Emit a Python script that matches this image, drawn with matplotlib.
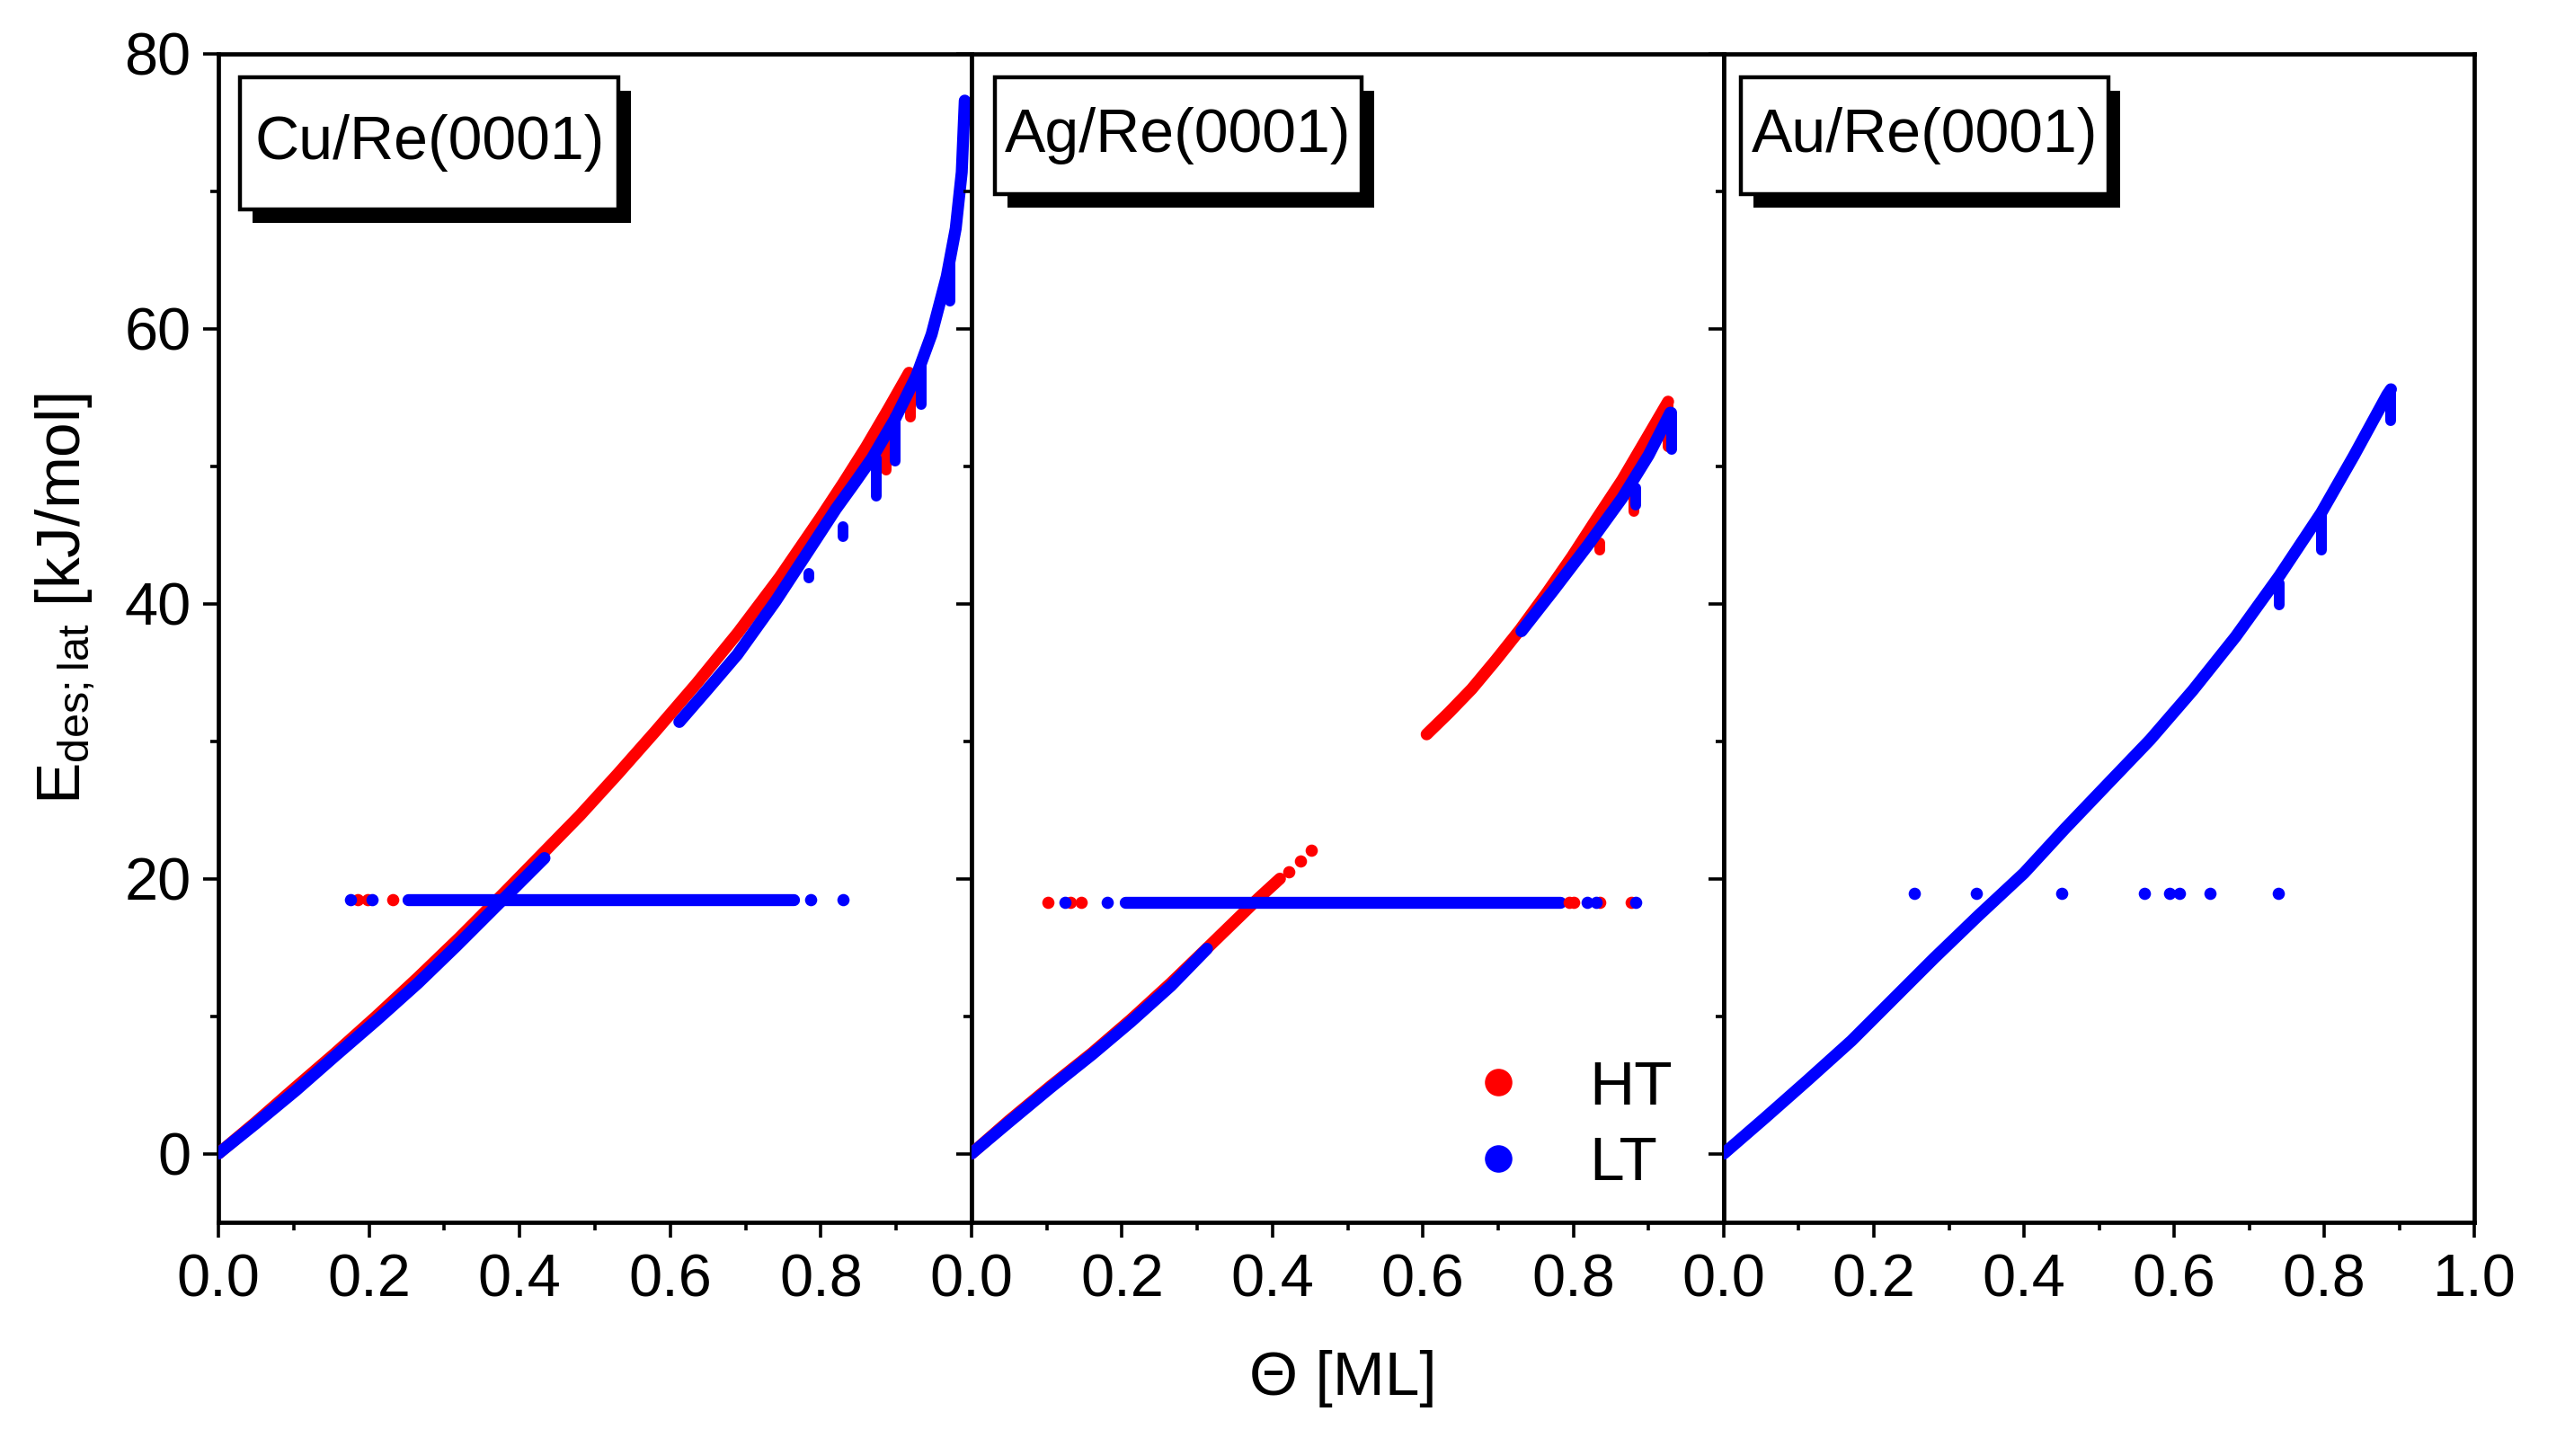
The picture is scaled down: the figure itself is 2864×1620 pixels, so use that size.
import matplotlib.pyplot as plt
from matplotlib.patches import Rectangle
from matplotlib.lines import Line2D

plt.rcParams['font.family'] = ['Liberation Sans', 'DejaVu Sans']
plt.rcParams['mathtext.default'] = 'regular'

RED = '#ff0000'
BLUE = '#0000ff'

panels = ['Cu/Re(0001)', 'Ag/Re(0001)', 'Au/Re(0001)']

# ---- Cu/Re(0001) ----
cu_ht_x = [0.0, 0.05, 0.10, 0.155, 0.21, 0.265, 0.32, 0.38, 0.43, 0.48, 0.53, 0.58,
           0.635, 0.69, 0.745, 0.80, 0.83, 0.86, 0.89, 0.917]
cu_ht_y = [0.0, 2.3, 4.7, 7.3, 10.0, 12.8, 15.7, 19.0, 21.8, 24.6, 27.6, 30.7,
           34.2, 37.9, 41.9, 46.3, 48.8, 51.4, 54.2, 56.8]
cu_lt1_x = [0.0, 0.05, 0.103, 0.155, 0.21, 0.265, 0.316, 0.38, 0.433]
cu_lt1_y = [0.0, 2.2, 4.6, 7.1, 9.7, 12.4, 15.1, 18.6, 21.5]
cu_lt2_x = [0.612, 0.65, 0.689, 0.74, 0.795, 0.82, 0.845, 0.868, 0.899, 0.927,
            0.947, 0.967, 0.979, 0.987, 0.991]
cu_lt2_y = [31.4, 33.8, 36.3, 40.2, 44.8, 46.9, 48.8, 50.6, 53.5, 56.6,
            59.6, 63.8, 67.3, 71.4, 76.6]
cu_ht_drip_x = [0.919, 0.887]
cu_ht_drip_top = [56.5, 52.0]
cu_ht_drip_bot = [53.6, 49.7]
cu_lt_drip_x = [0.971, 0.933, 0.899, 0.873, 0.829, 0.784]
cu_lt_drip_top = [64.8, 57.5, 53.6, 50.6, 45.6, 42.2]
cu_lt_drip_bot = [62.0, 54.5, 50.4, 47.8, 44.9, 41.9]
cu_flat_y = 18.5
cu_flat_x = [0.252, 0.764]
cu_ht_dots = [0.185, 0.198, 0.232]
cu_lt_dots = [0.175, 0.204, 0.786, 0.829]

# ---- Ag/Re(0001) ----
ag_ht1_x = [0.0, 0.05, 0.105, 0.16, 0.212, 0.265, 0.318, 0.35, 0.382, 0.41]
ag_ht1_y = [0.0, 2.4, 4.9, 7.3, 9.75, 12.4, 15.2, 16.9, 18.6, 20.0]
ag_ht1_dots_x = [0.422, 0.437, 0.452]
ag_ht1_dots_y = [20.5, 21.3, 22.1]
ag_lt1_x = [0.0, 0.05, 0.105, 0.16, 0.212, 0.265, 0.313]
ag_lt1_y = [0.0, 2.3, 4.8, 7.2, 9.6, 12.2, 14.9]
ag_ht2_x = [0.605, 0.635, 0.665, 0.697, 0.729, 0.765, 0.798, 0.83, 0.865, 0.895, 0.926]
ag_ht2_y = [30.5, 32.1, 33.8, 35.9, 38.1, 40.8, 43.4, 46.1, 49.0, 51.8, 54.7]
ag_lt2_x = [0.731, 0.774, 0.82, 0.865, 0.90, 0.929]
ag_lt2_y = [38.0, 41.0, 44.3, 47.7, 50.8, 53.9]
ag_ht_drip_x = [0.926, 0.880, 0.835]
ag_ht_drip_top = [54.7, 48.4, 44.4]
ag_ht_drip_bot = [51.4, 46.7, 43.9]
ag_lt_drip_x = [0.931, 0.883]
ag_lt_drip_top = [53.9, 48.4]
ag_lt_drip_bot = [51.2, 47.2]
ag_flat_y = 18.3
ag_flat_x = [0.204, 0.782]
ag_ht_dots = [0.101, 0.131, 0.146, 0.794, 0.80, 0.835, 0.877]
ag_lt_dots = [0.124, 0.181, 0.818, 0.83, 0.883]

# ---- Au/Re(0001) ----
au_lt_x = [0.0, 0.055, 0.111, 0.17, 0.225, 0.28, 0.339, 0.40, 0.454, 0.51, 0.568,
           0.625, 0.682, 0.74, 0.796, 0.84, 0.884, 0.889]
au_lt_y = [0.0, 2.6, 5.3, 8.2, 11.2, 14.2, 17.3, 20.4, 23.6, 26.8, 30.1,
           33.7, 37.6, 42.0, 46.6, 50.8, 55.2, 55.6]
au_lt_drip_x = [0.889, 0.796, 0.74]
au_lt_drip_top = [55.6, 46.6, 41.5]
au_lt_drip_bot = [53.3, 43.9, 39.9]
au_dots_y = 18.9
au_lt_dots = [0.254, 0.337, 0.45, 0.560, 0.594, 0.607, 0.648, 0.739]

LW = 4.8
MS = 24

fig = plt.figure(figsize=(14.32, 8.1), dpi=200)
lefts = [243 / 2864, 1081 / 2864, 1918 / 2864]
widths = [838 / 2864, 837 / 2864, 835 / 2864]
axes = [fig.add_axes([l, 0.1605, w, 0.8025]) for l, w in zip(lefts, widths)]


def curve(ax, x, y, c):
    ax.plot(x, y, color=c, lw=LW, solid_capstyle='round', solid_joinstyle='round', zorder=3)


def drips(ax, x, top, bot, c):
    for xi, t, b in zip(x, top, bot):
        ax.plot([xi, xi], [t, b], color=c, lw=LW * 0.9, solid_capstyle='round', zorder=3)


def dots(ax, x, y, c):
    yy = y if isinstance(y, list) else [y] * len(x)
    ax.scatter(x, yy, s=MS, color=c, lw=0, zorder=4)


ax = axes[0]
curve(ax, cu_ht_x, cu_ht_y, RED)
drips(ax, cu_ht_drip_x, cu_ht_drip_top, cu_ht_drip_bot, RED)
dots(ax, cu_ht_dots, cu_flat_y, RED)
curve(ax, cu_lt1_x, cu_lt1_y, BLUE)
curve(ax, cu_lt2_x, cu_lt2_y, BLUE)
drips(ax, cu_lt_drip_x, cu_lt_drip_top, cu_lt_drip_bot, BLUE)
curve(ax, cu_flat_x, [cu_flat_y] * 2, BLUE)
dots(ax, cu_lt_dots, cu_flat_y, BLUE)

ax = axes[1]
curve(ax, ag_ht1_x, ag_ht1_y, RED)
dots(ax, ag_ht1_dots_x, ag_ht1_dots_y, RED)
curve(ax, ag_ht2_x, ag_ht2_y, RED)
drips(ax, ag_ht_drip_x, ag_ht_drip_top, ag_ht_drip_bot, RED)
dots(ax, ag_ht_dots, ag_flat_y, RED)
curve(ax, ag_lt1_x, ag_lt1_y, BLUE)
curve(ax, ag_lt2_x, ag_lt2_y, BLUE)
drips(ax, ag_lt_drip_x, ag_lt_drip_top, ag_lt_drip_bot, BLUE)
curve(ax, ag_flat_x, [ag_flat_y] * 2, BLUE)
dots(ax, ag_lt_dots, ag_flat_y, BLUE)

ax = axes[2]
curve(ax, au_lt_x, au_lt_y, BLUE)
drips(ax, au_lt_drip_x, au_lt_drip_top, au_lt_drip_bot, BLUE)
dots(ax, au_lt_dots, au_dots_y, BLUE)

# label boxes (axes coords): x0, x1, y0, y1, text x
boxes = [(0.0286, 0.531, 0.867, 0.980, 0.048),
         (0.031, 0.519, 0.880, 0.980, 0.044),
         (0.023, 0.512, 0.880, 0.980, 0.037)]

for i, ax in enumerate(axes):
    ax.set_xlim(0, 1.0)
    ax.set_ylim(-5, 80)
    if i < 2:
        ax.set_xticks([0, 0.2, 0.4, 0.6, 0.8])
    else:
        ax.set_xticks([0, 0.2, 0.4, 0.6, 0.8, 1.0])
    ax.set_xticks([0.1, 0.3, 0.5, 0.7, 0.9], minor=True)
    ax.set_xticklabels([f'{t:.1f}' for t in ax.get_xticks()])
    ax.set_yticks([0, 20, 40, 60, 80])
    ax.set_yticks([10, 30, 50, 70], minor=True)
    if i > 0:
        ax.set_yticklabels([])
    ax.tick_params(which='major', direction='out', length=6, width=1.3, labelsize=24, pad=5)
    ax.tick_params(which='minor', direction='out', length=3.3, width=1.3)
    ax.tick_params(axis='x', which='major', pad=6.5)
    for s in ax.spines.values():
        s.set_linewidth(1.7)

    x0, x1, y0, y1, tx = boxes[i]
    dxs, dys = 0.0167, 0.0115
    ax.add_patch(Rectangle((x0 + dxs, y0 - dys), x1 - x0, y1 - y0, transform=ax.transAxes,
                           facecolor='black', edgecolor='black', lw=0, zorder=9))
    ax.add_patch(Rectangle((x0, y0), x1 - x0, y1 - y0, transform=ax.transAxes,
                           facecolor='white', edgecolor='black', lw=1.6, zorder=10))
    ax.text(tx, (y0 + y1) / 2, panels[i], transform=ax.transAxes, fontsize=24.5,
            ha='left', va='center', zorder=11)

handles = [Line2D([], [], ls='none', marker='o', ms=11, color=RED, mew=0),
           Line2D([], [], ls='none', marker='o', ms=11, color=BLUE, mew=0)]
axes[1].legend(handles, ['HT', 'LT'], loc='lower left', bbox_to_anchor=(0.659, 0.025),
               frameon=False, fontsize=25, handlelength=1.0, handletextpad=0.95,
               labelspacing=0.3, borderpad=0, borderaxespad=0)

fig.text(0.0255, 0.5885, 'E$_{des;lat}$ [kJ/mol]', rotation=90, fontsize=25,
         ha='center', va='center')
fig.text(0.5217, 0.053, 'Θ [ML]', fontsize=25, ha='center', va='center')

fig.savefig('out.png', dpi=200, facecolor='white')
